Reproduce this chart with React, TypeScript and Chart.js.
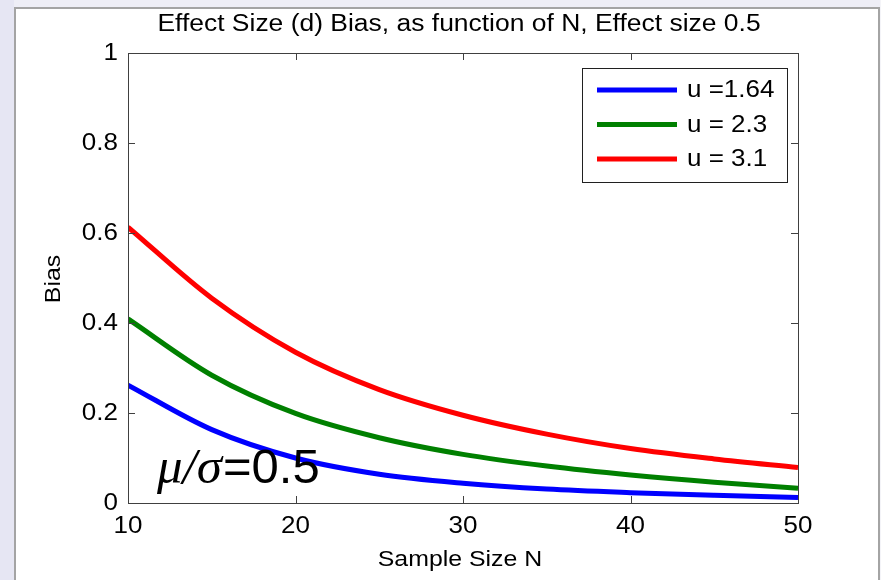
import React, { useEffect, useRef } from "react";
import { Chart, registerables } from "chart.js";

Chart.register(...registerables);

const sampleSizes = [10, 15, 20, 25, 30, 35, 40, 45, 50];
const biasU164 = [0.262, 0.163, 0.1, 0.064, 0.044, 0.031, 0.023, 0.017, 0.012];
const biasU23 = [0.409, 0.284, 0.199, 0.145, 0.108, 0.082, 0.062, 0.046, 0.033];
const biasU31 = [0.613, 0.455, 0.335, 0.252, 0.195, 0.153, 0.121, 0.098, 0.079];
const seriesLabels = ["u =1.64", "u = 2.3", "u = 3.1"];
const seriesColors = ["#0000ff", "#008000", "#ff0000"];
const xTicks = [10, 20, 30, 40, 50];
const yTicks = [0, 0.2, 0.4, 0.6, 0.8, 1];
const yTickLabels = ["0", "0.2", "0.4", "0.6", "0.8", "1"];
const titleText = "Effect Size (d) Bias, as function of N, Effect size 0.5";
const xTitle = "Sample Size N";
const yTitle = "Bias";

const SX = 1.13;
const FONT = '"Liberation Sans", Arial, sans-serif';

function txt(
  ctx: CanvasRenderingContext2D,
  s: string,
  x: number,
  y: number,
  size: number,
  align: CanvasTextAlign,
  baseline: CanvasTextBaseline,
  rotate = false,
  sx = SX
) {
  ctx.save();
  ctx.translate(x, y);
  if (rotate) ctx.rotate(-Math.PI / 2);
  ctx.scale(sx, 1);
  ctx.font = `${size}px ${FONT}`;
  ctx.fillStyle = "#000";
  ctx.textAlign = align;
  ctx.textBaseline = baseline;
  ctx.fillText(s, 0, 0);
  ctx.restore();
}

const framePlugin = {
  id: "frame",
  beforeDraw(chart: any) {
    const ctx = chart.ctx as CanvasRenderingContext2D;
    const W = chart.width;
    const H = chart.height;
    ctx.save();
    ctx.fillStyle = "#ffffff";
    ctx.fillRect(0, 0, W, H);
    ctx.fillStyle = "#eeeef6";
    ctx.fillRect(0, 0, W, 7);
    ctx.fillStyle = "#e6e6f3";
    ctx.fillRect(0, 0, 14, H);
    ctx.fillStyle = "#a4a4a4";
    ctx.fillRect(14, 7, 2, H - 7);
    ctx.fillRect(14, 7, 865, 2);
    ctx.fillRect(878, 7, 2, H - 7);
    ctx.fillStyle = "#f4f4f8";
    ctx.fillRect(880, 0, 1, H);
    ctx.restore();
  },
  afterDraw(chart: any) {
    const ctx = chart.ctx as CanvasRenderingContext2D;
    const a = chart.chartArea;
    const xs = chart.scales.x;
    const ys = chart.scales.y;
    ctx.save();
    ctx.strokeStyle = "#404040";
    ctx.lineWidth = 1;
    ctx.strokeRect(Math.round(a.left) + 0.5, Math.round(a.top) + 0.5, Math.round(a.right - a.left), Math.round(a.bottom - a.top));
    const tl = 7;
    ctx.beginPath();
    xTicks.forEach((v) => {
      const px = Math.round(xs.getPixelForValue(v)) + 0.5;
      ctx.moveTo(px, a.bottom);
      ctx.lineTo(px, a.bottom - tl);
      ctx.moveTo(px, a.top);
      ctx.lineTo(px, a.top + tl);
    });
    yTicks.forEach((v) => {
      const py = Math.round(ys.getPixelForValue(v)) + 0.5;
      ctx.moveTo(a.left, py);
      ctx.lineTo(a.left + tl, py);
      ctx.moveTo(a.right, py);
      ctx.lineTo(a.right - tl, py);
    });
    ctx.stroke();
    xTicks.forEach((v) => {
      txt(ctx, String(v), xs.getPixelForValue(v), 527, 23, "center", "middle");
    });
    yTicks.forEach((v, i) => {
      txt(ctx, yTickLabels[i], 118, ys.getPixelForValue(v) + 1, 23, "right", "middle");
    });
    txt(ctx, titleText, 459, 25, 23, "center", "middle", false, 1.15);
    txt(ctx, xTitle, 460, 560, 22, "center", "middle");
    txt(ctx, yTitle, 54, 279, 22, "center", "middle", true);
    const lx = 582.5, ly = 68.5, lw = 205, lh = 114;
    ctx.fillStyle = "#fff";
    ctx.fillRect(lx, ly, lw, lh);
    ctx.strokeStyle = "#202020";
    ctx.lineWidth = 1;
    ctx.strokeRect(lx, ly, lw, lh);
    const rows = [90, 124.5, 159];
    chart.data.datasets.forEach((ds: any, i: number) => {
      ctx.strokeStyle = ds.borderColor;
      ctx.lineWidth = 5;
      ctx.beginPath();
      ctx.moveTo(597, rows[i]);
      ctx.lineTo(677, rows[i]);
      ctx.stroke();
      txt(ctx, ds.label, 687, rows[i] + 1, 23, "left", "middle");
    });
    ctx.save();
    ctx.fillStyle = "#000";
    ctx.textBaseline = "alphabetic";
    ctx.textAlign = "left";
    ctx.font = `italic 51px "Liberation Serif", serif`;
    const mu = "\u03bc/\u03c3";
    ctx.fillText(mu, 157, 483);
    const w = ctx.measureText(mu).width;
    ctx.font = `49px ${FONT}`;
    ctx.fillText("=0.5", 157 + w + 1, 483);
    ctx.restore();
    ctx.restore();
  },
};

export default function App() {
  const ref = useRef<HTMLCanvasElement | null>(null);
  useEffect(() => {
    if (!ref.current) return;
    const series = [biasU164, biasU23, biasU31];
    const chart = new Chart(ref.current, {
      type: "line",
      data: {
        datasets: series.map((vals, i) => ({
          label: seriesLabels[i],
          data: sampleSizes.map((n, j) => ({ x: n, y: vals[j] })),
          borderColor: seriesColors[i],
          backgroundColor: seriesColors[i],
          borderWidth: 5,
          pointRadius: 0,
          cubicInterpolationMode: "monotone" as const,
          fill: false,
        })),
      },
      options: {
        responsive: false,
        animation: false,
        devicePixelRatio: 1,
        layout: { padding: { left: 128, top: 53, right: 83, bottom: 77 } },
        plugins: { legend: { display: false }, title: { display: false }, tooltip: { enabled: false } },
        scales: {
          x: { type: "linear", min: 10, max: 50, display: false },
          y: { type: "linear", min: 0, max: 1, display: false },
        },
      },
      plugins: [framePlugin],
    });
    return () => chart.destroy();
  }, []);
  return (
    <div style={{ position: "absolute", left: 0, top: 0, width: 881, height: 580 }}>
      <canvas ref={ref} width={881} height={580} style={{ width: 881, height: 580, display: "block" }} />
    </div>
  );
}
